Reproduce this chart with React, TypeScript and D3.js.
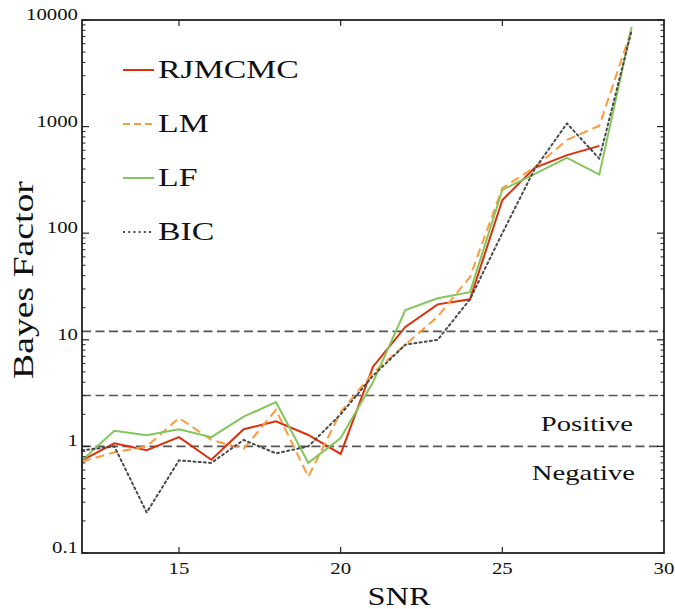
import React from 'react';
import * as d3 from 'd3';

// SNR values on the x axis
const snr = [12, 13, 14, 15, 16, 17, 18, 19, 20, 21, 22, 23, 24, 25, 26, 27, 28, 29];

// Bayes factor per method (RJMCMC stops at SNR 28)
const rjmcmc = [0.74, 1.07, 0.92, 1.22, 0.75, 1.45, 1.72, 1.28, 0.85, 5.6, 13.2, 21.5, 24, 205, 410, 540, 660];
const lm = [0.72, 0.88, 1.0, 1.85, 1.15, 0.95, 2.2, 0.52, 2.1, 4.9, 9, 16.5, 39, 265, 415, 750, 1020, 8200];
const lf = [0.74, 1.4, 1.27, 1.45, 1.22, 1.9, 2.6, 0.7, 1.2, 4.0, 19, 24.5, 28, 255, 360, 510, 355, 8600];
const bic = [0.92, 1.0, 0.24, 0.74, 0.7, 1.15, 0.86, 1.0, 2.0, 4.6, 9, 10, 24, 100, 400, 1070, 500, 8000];

// Jeffreys-scale reference lines
const thresholds = [1, 3, 12];

const xTicks = [15, 20, 25, 30];
const yTicks = [0.1, 1, 10, 100, 1000, 10000];
const yTickLabels = ['0.1', '1', '10', '100', '1000', '10000'];

const series = [
    { name: 'RJMCMC', values: rjmcmc, color: '#dc2f0c', dash: 'none', width: 2 },
    { name: 'LM', values: lm, color: '#fd9a3e', dash: '9,5', width: 2 },
    { name: 'LF', values: lf, color: '#84c65c', dash: 'none', width: 2 },
    { name: 'BIC', values: bic, color: '#4a4a4a', dash: '2,3.2', width: 2 },
];

const W = 675;
const H = 609;
const margin = { top: 20, right: 11, bottom: 56, left: 82 };
const FONT = '"Liberation Serif", "Times New Roman", serif';
const SX = 1.3; // the original glyphs are wider than Times

const Txt: React.FC<{ x: number; y: number; size: number; anchor?: string; rotate?: number; children: React.ReactNode }> = ({ x, y, size, anchor = 'start', rotate = 0, children }) => (
    <text
        transform={`translate(${x},${y}) rotate(${rotate}) scale(${SX},1)`}
        fontFamily={FONT}
        fontSize={size}
        textAnchor={anchor}
        fill="#111"
    >
        {children}
    </text>
);

const App: React.FC = () => {
    const x0 = margin.left;
    const x1 = W - margin.right;
    const y0 = H - margin.bottom;
    const y1 = margin.top;

    const xScale = d3.scaleLinear().domain([12, 30]).range([x0, x1]);
    const yScale = d3.scaleLog().domain([0.1, 10000]).range([y0, y1]);

    const line = d3.line<number>()
        .x((_, i) => xScale(snr[i]))
        .y(d => yScale(d));

    // minor log ticks 2..9 in each decade
    const minor: number[] = [];
    yTicks.slice(0, -1).forEach(d => {
        for (let k = 2; k <= 9; k++) minor.push(d * k);
    });

    const legendY = [70, 124, 178, 232];

    return (
        <svg width={W} height={H} style={{ position: 'absolute', left: 0, top: 0, background: '#fff' }}>
            {/* reference lines */}
            {thresholds.map(t => (
                <line key={t} x1={x0} x2={x1} y1={yScale(t)} y2={yScale(t)}
                    stroke="#555" strokeWidth={1.6} strokeDasharray="9,4.5" />
            ))}
            <Txt x={633} y={yScale(1) - 15} size={22} anchor="end">Positive</Txt>
            <Txt x={635} y={yScale(1) + 34} size={22} anchor="end">Negative</Txt>

            {/* series */}
            {series.map(s => (
                <path key={s.name} d={line(s.values) || ''} fill="none" stroke={s.color}
                    strokeWidth={s.width} strokeDasharray={s.dash}
                    strokeLinecap={s.name === 'BIC' ? 'round' : 'butt'} />
            ))}

            {/* frame */}
            <rect x={x0} y={y1} width={x1 - x0} height={y0 - y1} fill="none" stroke="#222" strokeWidth={1.8} />

            {/* x ticks, bottom and top, pointing in */}
            {xTicks.slice(0, -1).map(t => (
                <g key={t}>
                    <line x1={xScale(t)} x2={xScale(t)} y1={y0} y2={y0 - 6} stroke="#222" strokeWidth={1.2} />
                    <line x1={xScale(t)} x2={xScale(t)} y1={y1} y2={y1 + 6} stroke="#222" strokeWidth={1.2} />
                </g>
            ))}
            {xTicks.map(t => (
                <Txt key={t} x={xScale(t)} y={y0 + 21} size={16} anchor="middle">{t}</Txt>
            ))}

            {/* y ticks, left and right */}
            {yTicks.map(t => (
                <g key={t}>
                    <line x1={x0} x2={x0 + 7} y1={yScale(t)} y2={yScale(t)} stroke="#222" strokeWidth={1.2} />
                    <line x1={x1} x2={x1 - 7} y1={yScale(t)} y2={yScale(t)} stroke="#222" strokeWidth={1.2} />
                </g>
            ))}
            {minor.map(t => (
                <g key={t}>
                    <line x1={x0} x2={x0 + 3.5} y1={yScale(t)} y2={yScale(t)} stroke="#222" strokeWidth={1} />
                    <line x1={x1} x2={x1 - 3.5} y1={yScale(t)} y2={yScale(t)} stroke="#222" strokeWidth={1} />
                </g>
            ))}
            {yTicks.map((t, i) => (
                <Txt key={t} x={x0 - 4} y={yScale(t)} size={16} anchor="end">{yTickLabels[i]}</Txt>
            ))}

            {/* axis titles */}
            <Txt x={399} y={605} size={25} anchor="middle">SNR</Txt>
            <Txt x={33} y={280} size={29} anchor="middle" rotate={-90}>Bayes Factor</Txt>

            {/* legend */}
            {series.map((s, i) => (
                <g key={s.name}>
                    <line x1={123} x2={154} y1={legendY[i]} y2={legendY[i]} stroke={s.color}
                        strokeWidth={s.width} strokeDasharray={s.dash === '9,5' ? '7,4' : s.dash} />
                    <Txt x={158} y={legendY[i] + 8} size={26}>{s.name}</Txt>
                </g>
            ))}
        </svg>
    );
};

export default App;
